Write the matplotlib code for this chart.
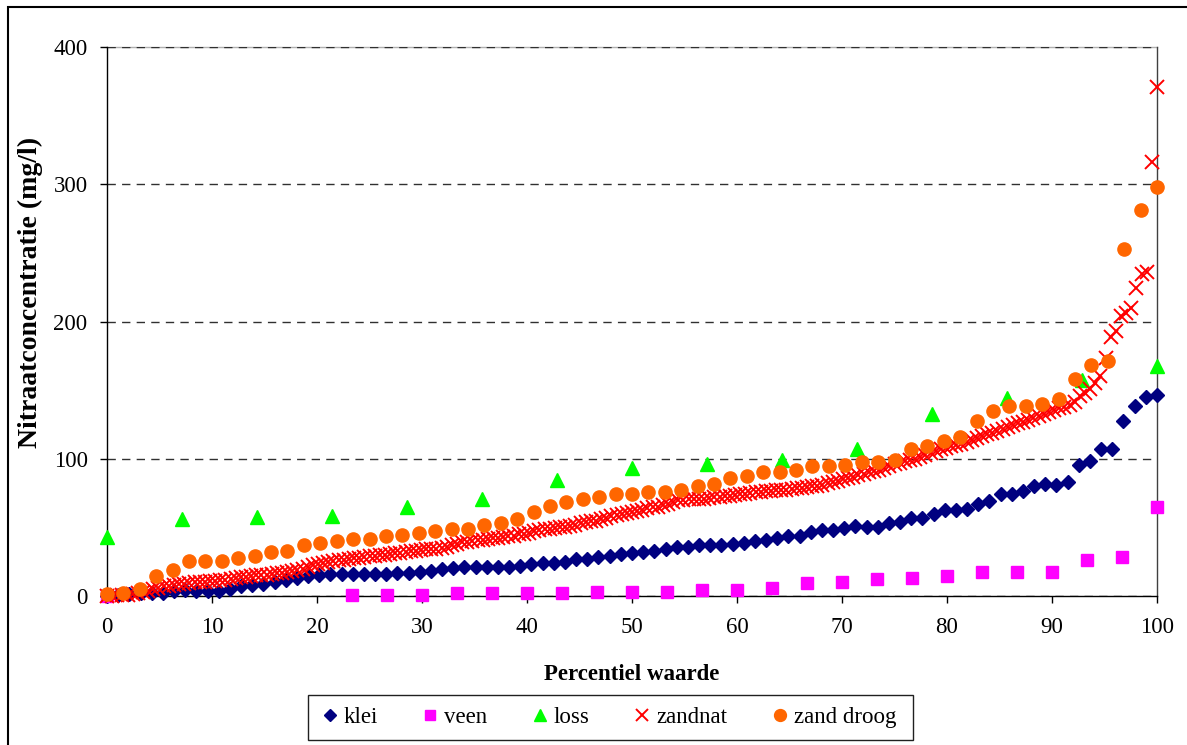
import numpy as np
import matplotlib.pyplot as plt
from matplotlib.patches import Rectangle

plt.rcParams['font.family'] = ['Liberation Serif', 'DejaVu Serif']

# klei: 95 percentile points, 0..100
klei = [0, 0.5, 1.5, 2, 2, 2.5, 4, 4.4, 4, 4,
        4, 5, 7.5, 8, 9, 10, 12, 13, 14.6, 15.3,
        16, 16, 16, 16, 16, 16, 17, 17, 17.7, 18.5,
        19.5, 20.5, 21.4, 21.4, 21.4, 21.4, 21.4, 22, 23.4, 23.8,
        23.8, 24.5, 26.8, 27, 28.7, 29, 30.7, 31.3, 32, 33,
        34.5, 36, 36, 37, 37.2, 37.2, 38.2, 38.9, 40, 40.9,
        42, 43.8, 43.5, 46.5, 48.2, 48.2, 49.9, 51.1, 50.6, 50.6,
        53.5, 54.2, 56.7, 56.7, 59.9, 62.3, 62.3, 63.5, 66.9, 69.3,
        74.2, 74.2, 76.6, 79.8, 81.5, 81.0, 83.4, 95.6, 98, 107.1,
        107.1, 127.7, 138.7, 144.7, 146.7]

# veen: percentiles (steps of 1/30) and values
veen_pct = [0, 23.3, 26.7, 30.0, 33.3, 36.7, 40.0, 43.3, 46.7, 50.0,
            53.3, 56.7, 60.0, 63.3, 66.7, 70.0, 73.3, 76.7, 80.0, 83.3,
            86.7, 90.0, 93.3, 96.7, 100]
veen = [0, 0.5, 0.5, 0.5, 2, 2, 2, 2, 3, 3,
        3, 4.4, 4.4, 6, 9.2, 10.5, 12.1, 13.4, 14.8, 17.8,
        17.8, 17.8, 26.3, 28.7, 64.5]

# loss: 15 points
loss = [43.3, 56, 57.4, 58.6, 64.7, 70.6, 84.7, 93.2, 96.1, 98.8,
        107.3, 132.8, 144.3, 157.2, 167.4]

# zandnat: 205 points
zandnat = [0, 0, 0.5, 0.5, 1, 1.5, 2, 3, 4, 5,
           6, 7, 7.5, 8, 8.5, 9, 9.5, 10, 10, 10.5,
           11, 11, 11.5, 12, 12.5, 13, 13.5, 14, 14.5, 15,
           15, 15.5, 16, 16.5, 17, 17.5, 18, 19, 20, 21,
           22.5, 23, 24, 25, 25.5, 26, 26.5, 27, 27.5, 28,
           28.5, 29, 29.5, 30, 30, 30.5, 31, 31.5, 32, 32.5,
           33, 33.5, 34, 34, 34.5, 35, 36, 37, 38, 39,
           39.5, 40, 40.5, 41, 41.5, 42, 42.5, 43, 43.5, 44,
           45, 45.5, 46, 47, 48, 48.5, 49, 49.5, 50, 50.5,
           51, 52, 53, 54, 54.5, 55, 56, 57, 58, 59,
           60, 60.5, 61, 62, 63, 64, 64.5, 65, 66, 67,
           68.5, 70, 70, 70.5, 70.5, 71, 71, 71.5, 72, 72,
           72.5, 73, 73.5, 74, 74.5, 75, 75.5, 76, 76.5, 76.5,
           77, 77, 77.5, 78, 78.5, 79, 79.5, 80, 80.5, 81,
           82, 83, 84, 85, 86, 87, 88, 89, 90, 91,
           92, 93, 94.5, 96, 97, 98, 99, 100, 101, 102.5,
           104, 105.5, 107, 108, 109, 110, 111, 112, 113.5, 115,
           116.5, 118, 119, 120.5, 122, 123, 124.5, 126, 127, 128,
           129.5, 131, 132.5, 134, 135.5, 137, 138, 139.5, 141.5, 145.5,
           148, 150.5, 155, 160, 173.5, 189, 193, 204, 206.5, 210,
           224.5, 234.5, 236, 316, 371]

# zand droog: 65 points
zand_droog = [1.5, 2, 4.9, 14.8, 19, 25.8, 25.8, 25.8, 27.5, 29.2,
              31.9, 33.1, 37.2, 38.9, 40.4, 41.6, 41.6, 44, 44.5, 45.8,
              47.4, 48.8, 48.9, 51.8, 53.0, 56.2, 61.5, 65.7, 68.8, 70.6,
              71.8, 74.5, 74.5, 75.7, 75.7, 77.4, 80.3, 81.8, 85.9, 87.1,
              90.3, 90.7, 91.5, 94.9, 94.9, 95.6, 97.3, 97.3, 98.8, 107.3,
              109, 112.6, 115.8, 127.2, 134.5, 138.2, 138.2, 139.9, 143.8, 158.4,
              168.6, 171, 252.6, 281, 298]

W, H = 1187, 745
fig = plt.figure(figsize=(W / 100, H / 100), dpi=100)
ax = fig.add_axes([107 / W, 1 - 596 / H, 1050 / W, 549 / H])

def pct(vals):
    return np.linspace(0, 100, len(vals))

ax.plot(pct(klei), klei, ls='none', marker='D', ms=6.8, color='#000080',
        mec='#000080', label='klei', clip_on=False, zorder=3)
ax.plot(veen_pct, veen, ls='none', marker='s', ms=8, color='#FF00FF',
        mec='#FF00FF', label='veen', clip_on=False, zorder=4)
ax.plot(pct(loss), loss, ls='none', marker='^', ms=10, color='#00FF00',
        mec='#00FF00', label='loss', clip_on=False, zorder=5)
ax.plot(pct(zandnat), zandnat, ls='none', marker='x', ms=9.5, mew=1.4,
        color='#FF0000', label='zandnat', clip_on=False, zorder=6)
ax.plot(pct(zand_droog), zand_droog, ls='none', marker='o', ms=9.5,
        color='#FF6600', mec='#FF6600', label='zand droog', clip_on=False, zorder=7)

ax.set_xlim(0, 100)
ax.set_ylim(0, 400)
ax.set_xticks(range(0, 101, 10))
ax.set_yticks(range(0, 401, 100))
ax.yaxis.grid(True, color='#303030', lw=1, ls=(0, (6, 4.5)))
ax.set_axisbelow(True)
ax.tick_params(axis='x', direction='out', length=5, width=1, pad=10,
               labelsize=16.5, colors='black')
ax.tick_params(axis='y', direction='out', length=5, width=1, pad=9,
               labelsize=16.5, colors='black')
ax.spines['left'].set_color('black')
ax.spines['bottom'].set_color('black')
ax.spines['top'].set_color('#b0b0b0')
ax.spines['top'].set_zorder(0.3)
ax.spines['right'].set_color('#404040')
for s in ax.spines.values():
    s.set_linewidth(1)

fig.text(632 / W, 1 - 675 / H, 'Percentiel waarde', ha='center', va='center',
         fontsize=16.5, fontweight='bold')
fig.text(30 / W, 1 - 292 / H, 'Nitraatconcentratie (mg/l)', ha='center',
         va='center', rotation=90, fontsize=20, fontweight='bold')

leg = ax.legend(loc='center', bbox_to_anchor=(610 / W, 1 - 717 / H),
                bbox_transform=fig.transFigure, ncol=5, numpoints=1,
                fontsize=16.5, frameon=False, markerscale=0.9,
                handlelength=0.5, handletextpad=0.35, columnspacing=2.05,
                borderpad=0.3)
fig.patches.append(Rectangle((308 / W, 1 - 740 / H), 605 / W, 45 / H,
                             transform=fig.transFigure, fill=False,
                             edgecolor='#202020', lw=1, figure=fig))

fig.patches.append(Rectangle((8 / W, -0.5), 2, 1.5 - 7 / H, transform=fig.transFigure,
                             fill=False, edgecolor='black', lw=1.5, figure=fig))

fig.savefig('out.png', dpi=100)
